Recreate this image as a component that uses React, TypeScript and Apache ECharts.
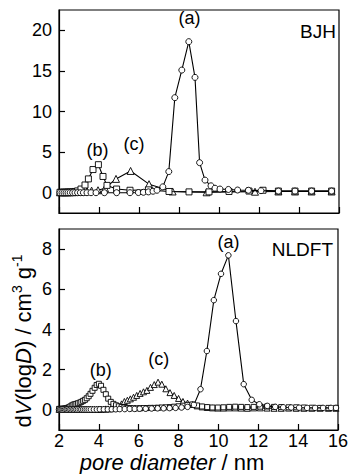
import React, { useEffect, useRef } from "react";
import * as echarts from "echarts";

// ---------- axis ticks ----------
const xTickValues = [2, 4, 6, 8, 10, 12, 14, 16];
const bjhYTicks = [0, 5, 10, 15, 20];
const nldftYTicks = [0, 2, 4, 6, 8];

// ---------- BJH (top panel) ----------
// (a) circles
const bjhAX = [2.05, 2.15, 2.25, 2.35, 2.45, 2.56, 2.68, 2.8, 2.93, 3.07, 3.22, 3.4, 3.6, 3.85, 4.27, 4.88, 5.55, 5.97, 6.22, 6.47, 6.7, 6.9, 7.19, 7.49, 7.79, 8.14, 8.49, 8.8, 9.03, 9.3, 9.6, 9.8, 10.05, 10.47, 10.93, 11.47, 12.1, 12.97, 13.8, 14.63, 15.63];
const bjhAY = [0, 0, 0, 0, 0, 0, 0, 0, 0, 0, 0, 0, 0, 0, 0, 0, 0, 0.02, 0.05, 0.1, 0.18, 0.3, 0.72, 2.6, 11.7, 15.1, 18.6, 14.2, 3.7, 1.55, 0.85, 0.55, 0.45, 0.4, 0.33, 0.3, 0.25, 0.2, 0.2, 0.2, 0.2];
// (b) squares
const bjhBX = [2.05, 2.15, 2.25, 2.35, 2.45, 2.56, 2.68, 2.8, 2.93, 3.1, 3.3, 3.47, 3.7, 3.97, 4.2, 4.4, 4.88, 5.55, 6.47, 7.5, 8.5, 9.5, 10.5, 11.5, 12.2, 12.97, 13.8, 14.63, 15.63];
const bjhBY = [0.05, 0.05, 0.06, 0.07, 0.08, 0.1, 0.12, 0.15, 0.22, 0.45, 0.95, 1.7, 2.85, 3.45, 2.0, 0.9, 0.45, 0.3, 0.35, 0.15, 0.1, 0.1, 0.15, 0.2, 0.3, 0.2, 0.2, 0.2, 0.2];
// (c) triangles
const bjhCX = [2.05, 2.15, 2.25, 2.35, 2.45, 2.56, 2.68, 2.8, 2.93, 3.07, 3.22, 3.4, 3.63, 3.95, 4.3, 4.85, 5.58, 6.5, 7.68, 9.38, 11.8, 12.97, 13.8, 14.63, 15.63];
const bjhCY = [0.05, 0.05, 0.05, 0.05, 0.05, 0.06, 0.07, 0.08, 0.1, 0.12, 0.15, 0.2, 0.25, 0.3, 0.55, 1.7, 2.68, 1.05, 0.15, 0.05, 0.12, 0.15, 0.15, 0.15, 0.15];

// ---------- NLDFT (bottom panel) ----------
const nlGridX = [2.0, 2.06, 2.12, 2.18, 2.24, 2.3, 2.37, 2.43, 2.5, 2.57, 2.64, 2.72, 2.79, 2.87, 2.95, 3.04, 3.12, 3.21, 3.3, 3.39, 3.49, 3.58, 3.68, 3.79, 3.89, 4.0, 4.11, 4.23, 4.35, 4.47, 4.6, 4.73, 4.86, 5.0, 5.14, 5.28, 5.43, 5.58, 5.74, 5.9, 6.07, 6.24, 6.41, 6.59, 6.78, 6.97, 7.16, 7.36, 7.57, 7.78, 8.0, 8.22, 8.45, 8.69, 8.93, 9.18, 9.44, 9.7, 9.97, 10.25, 10.54, 10.84, 11.14, 11.45, 11.77, 12.1, 12.44, 12.79, 13.15, 13.52, 13.9, 14.29, 14.69, 15.1, 15.52, 15.9];
// (b) squares
const nlBY = [0.05, 0.05, 0.05, 0.06, 0.06, 0.07, 0.08, 0.1, 0.13, 0.17, 0.22, 0.26, 0.28, 0.3, 0.33, 0.36, 0.4, 0.45, 0.5, 0.58, 0.68, 0.8, 0.95, 1.1, 1.24, 1.3, 1.2, 1.0, 0.78, 0.56, 0.4, 0.3, 0.23, 0.18, 0.14, 0.12, 0.1, 0.09, 0.08, 0.08, 0.08, 0.09, 0.09, 0.1, 0.1, 0.11, 0.12, 0.13, 0.14, 0.16, 0.18, 0.21, 0.25, 0.27, 0.22, 0.17, 0.14, 0.12, 0.12, 0.13, 0.15, 0.16, 0.15, 0.14, 0.15, 0.16, 0.17, 0.15, 0.14, 0.13, 0.13, 0.12, 0.11, 0.1, 0.1, 0.1];
// (c) triangles
const nlCY = [0.03, 0.03, 0.03, 0.03, 0.03, 0.03, 0.03, 0.03, 0.03, 0.03, 0.03, 0.03, 0.03, 0.03, 0.03, 0.03, 0.03, 0.03, 0.03, 0.03, 0.03, 0.03, 0.03, 0.03, 0.03, 0.04, 0.04, 0.04, 0.05, 0.05, 0.06, 0.07, 0.09, 0.15, 0.3, 0.42, 0.48, 0.55, 0.63, 0.72, 0.82, 0.9, 0.97, 1.12, 1.26, 1.38, 1.28, 1.05, 0.86, 0.72, 0.57, 0.42, 0.34, 0.27, 0.2, 0.15, 0.12, 0.1, 0.09, 0.09, 0.1, 0.1, 0.09, 0.08, 0.1, 0.1, 0.09, 0.08, 0.08, 0.09, 0.08, 0.08, 0.08, 0.08, 0.08, 0.08];
// (a) circles
const nlAX = [2.0, 2.06, 2.12, 2.18, 2.24, 2.3, 2.37, 2.43, 2.5, 2.57, 2.64, 2.72, 2.79, 2.87, 2.95, 3.04, 3.12, 3.21, 3.3, 3.39, 3.49, 3.6, 3.75, 3.9, 4.05, 4.25, 4.45, 4.65, 4.85, 5.05, 5.3, 5.55, 5.8, 6.05, 6.35, 6.65, 6.95, 7.25, 7.55, 7.85, 8.15, 8.45, 8.77, 9.1, 9.42, 9.77, 10.13, 10.5, 10.88, 11.27, 11.67, 12.05, 12.45, 12.85, 13.25, 13.65, 14.05, 14.45, 14.85, 15.25, 15.65, 15.9];
const nlAY = [0.02, 0.02, 0.02, 0.02, 0.02, 0.02, 0.02, 0.02, 0.02, 0.02, 0.02, 0.02, 0.02, 0.02, 0.02, 0.02, 0.02, 0.02, 0.02, 0.02, 0.02, 0.02, 0.02, 0.02, 0.03, 0.03, 0.03, 0.03, 0.03, 0.04, 0.04, 0.05, 0.05, 0.06, 0.06, 0.07, 0.08, 0.08, 0.09, 0.1, 0.12, 0.15, 0.25, 1.03, 2.93, 5.46, 6.77, 7.69, 4.42, 1.28, 0.5, 0.28, 0.2, 0.15, 0.13, 0.12, 0.11, 0.1, 0.1, 0.1, 0.1, 0.1];

// ---------- annotations ----------
const bjhLabelText = ["(a)", "(b)", "(c)"];
const bjhLabelX = [8.52, 3.93, 5.75];
const bjhLabelY = [21.5, 5.3, 6.0];
const nlLabelText = ["(a)", "(b)", "(c)"];
const nlLabelX = [10.5, 4.1, 7.0];
const nlLabelY = [8.35, 2.0, 2.52];

const FONT = "'Liberation Sans', Arial, Helvetica, sans-serif";

const zip = (xs: number[], ys: number[]) => xs.map((x, i) => [x, ys[i]]);

function markerSeries(xs: number[], ys: number[], symbol: string, size: number, idx: number, z: number) {
  return {
    type: "line",
    data: zip(xs, ys),
    xAxisIndex: idx,
    yAxisIndex: idx,
    symbol,
    symbolSize: size,
    showAllSymbol: true,
    lineStyle: { color: "#000", width: 1.1 },
    itemStyle: { color: "#fff", borderColor: "#000", borderWidth: 0.9 },
    z,
    silent: true,
  };
}

function xAxisDef(idx: number, showLabels: boolean) {
  return {
    type: "value",
    gridIndex: idx,
    min: 2,
    max: 16,
    interval: 2,
    axisLine: { show: true, onZero: false, lineStyle: { color: "#000", width: 1.2 } },
    axisTick: { show: true, inside: true, length: 6, lineStyle: { color: "#000", width: 1.2 } },
    axisLabel: {
      show: showLabels,
      color: "#000",
      fontSize: 18,
      lineHeight: 18,
      fontFamily: FONT,
      margin: 2,
      customValues: xTickValues,
    },
    splitLine: { show: false },
  };
}

function yAxisDef(idx: number, min: number, max: number, ticks: number[]) {
  return {
    type: "value",
    gridIndex: idx,
    min,
    max,
    axisLine: { show: true, onZero: false, lineStyle: { color: "#000", width: 1.2 } },
    axisTick: { show: true, inside: true, length: 6, customValues: ticks, lineStyle: { color: "#000", width: 1.2 } },
    axisLabel: { color: "#000", fontSize: 18, fontFamily: FONT, margin: 7, customValues: ticks },
    splitLine: { show: false },
  };
}

export default function App() {
  const ref = useRef<HTMLDivElement>(null);
  useEffect(() => {
    if (!ref.current) return;
    const chart = echarts.init(ref.current, undefined, { renderer: "svg" });
    const gridStyle = { show: true, borderColor: "#000", borderWidth: 1.2, backgroundColor: "transparent", containLabel: false };
    const baseGraphics: any[] = [
      {
        type: "text",
        right: 15,
        top: 22,
        style: { text: "BJH", fill: "#000", fontSize: 19, fontFamily: FONT },
      },
      {
        type: "text",
        right: 18,
        top: 240,
        style: { text: "NLDFT", fill: "#000", fontSize: 19, fontFamily: FONT },
      },
      {
        type: "text",
        x: 172,
        y: 462,
        style: {
          text: "{i|pore diameter}{n| / nm}",
          align: "center",
          verticalAlign: "middle",
          textAlign: "center",
          textVerticalAlign: "middle",
          fill: "#000",
          fontSize: 22,
          fontFamily: FONT,
          rich: {
            i: { fontStyle: "italic", fontSize: 22, lineHeight: 22, fontFamily: FONT, fill: "#000", color: "#000" },
            n: { fontSize: 22, lineHeight: 22, fontFamily: FONT, fill: "#000", color: "#000" },
          },
        },
      },
      {
        type: "text",
        x: 23,
        y: 341,
        rotation: Math.PI / 2,
        style: {
          text: "{n|d}{i|V}{n|(log}{i|D}{n|) / cm}{s|3}{n| g}{s|-1}",
          align: "center",
          verticalAlign: "middle",
          textAlign: "center",
          textVerticalAlign: "middle",
          fill: "#000",
          fontSize: 22,
          fontFamily: FONT,
          rich: {
            n: { fontSize: 22, lineHeight: 26, fontFamily: FONT, fill: "#000", color: "#000" },
            i: { fontSize: 22, lineHeight: 26, fontStyle: "italic", fontFamily: FONT, fill: "#000", color: "#000" },
            s: { fontSize: 14, lineHeight: 14, verticalAlign: "top", fontFamily: FONT, fill: "#000", color: "#000" },
          },
        },
      },
    ];
    chart.setOption({
      animation: false,
      backgroundColor: "#fff",
      textStyle: { fontFamily: FONT },
      grid: [
        { ...gridStyle, left: 59, top: 10, width: 280, height: 203 },
        { ...gridStyle, left: 59, top: 229, width: 280, height: 201 },
      ],
      xAxis: [xAxisDef(0, false), xAxisDef(1, true)],
      yAxis: [yAxisDef(0, -2.5, 22.5, bjhYTicks), yAxisDef(1, -1, 9, nldftYTicks)],
      series: [
        markerSeries(bjhCX, bjhCY, "triangle", 7, 0, 2),
        markerSeries(bjhBX, bjhBY, "rect", 6, 0, 3),
        markerSeries(bjhAX, bjhAY, "circle", 6, 0, 4),
        markerSeries(nlGridX, nlCY, "triangle", 6, 1, 2),
        markerSeries(nlGridX, nlBY, "rect", 5, 1, 3),
        markerSeries(nlAX, nlAY, "circle", 5.5, 1, 4),
      ],
      graphic: baseGraphics,
    });
    const labelGraphics = (texts: string[], xs: number[], ys: number[], gridIndex: number) =>
      texts.map((t, i) => {
        const p = chart.convertToPixel({ gridIndex } as any, [xs[i], ys[i]]) as number[];
        return {
          type: "text",
          x: p[0],
          y: p[1],
          z: 20,
          style: {
            text: t,
            fill: "#000",
            fontSize: 18,
            fontFamily: FONT,
            align: "center",
            verticalAlign: "middle",
            textAlign: "center",
            textVerticalAlign: "middle",
          },
        };
      });
    chart.setOption({
      graphic: [
        ...baseGraphics,
        ...labelGraphics(bjhLabelText, bjhLabelX, bjhLabelY, 0),
        ...labelGraphics(nlLabelText, nlLabelX, nlLabelY, 1),
      ],
    });
    return () => chart.dispose();
  }, []);
  return <div ref={ref} style={{ width: 351, height: 474, position: "absolute", left: 0, top: 0 }} />;
}
